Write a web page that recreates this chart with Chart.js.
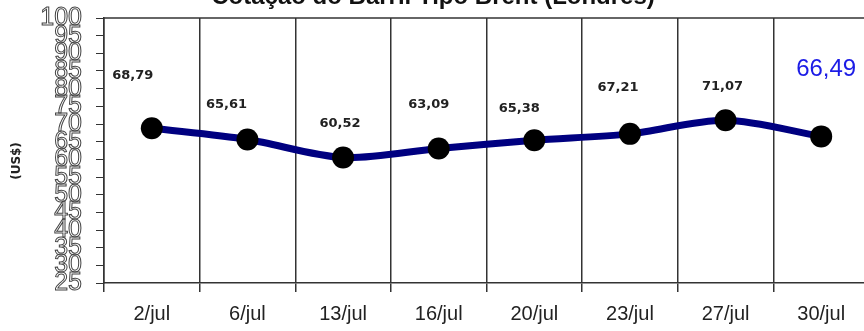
<!DOCTYPE html>
<html>
<head>
<meta charset="utf-8">
<script src="https://cdn.jsdelivr.net/npm/chart.js@4/dist/chart.umd.min.js"></script>
<style>
  html, body { margin: 0; padding: 0; background: #fff; overflow: hidden; }
  #wrap { width: 880px; height: 331px; position: relative; }
</style>
</head>
<body>
<div id="wrap"><canvas id="brent"></canvas></div>
<script>
/* ---------- data ---------- */
const categories = ["2/jul", "6/jul", "13/jul", "16/jul", "20/jul", "23/jul", "27/jul", "30/jul"];
const prices = [68.79, 65.61, 60.52, 63.09, 65.38, 67.21, 71.07, 66.49];
const yMin = 25;
const yMax = 100;
const yStep = 5;

const chartTitle = "Cotação do Barril Tipo Brent (Londres)";
const yTitle = "(US$)";

/* ---------- label placement (pixels, relative to each point) ---------- */
const labelOffsets = [
    [-19, -53], [-21, -35], [-3, -34], [-10, -44],
    [-15, -32], [-12, -46], [-3, -34], [5, -67]
];

const decorPlugin = {
    id: "decorPlugin",
    afterDatasetsDraw(chart) {
        const { ctx, chartArea } = chart;
        ctx.save();

        // top border of plot
        ctx.strokeStyle = "#333";
        ctx.lineWidth = 1.5;
        ctx.beginPath();
        ctx.moveTo(chartArea.left, chartArea.top);
        ctx.lineTo(chartArea.right, chartArea.top);
        ctx.stroke();

        // value labels
        const meta = chart.getDatasetMeta(0);
        ctx.textAlign = "center";
        ctx.textBaseline = "middle";
        meta.data.forEach((pt, i) => {
            const txt = prices[i].toFixed(2).replace(".", ",");
            const [dx, dy] = labelOffsets[i];
            if (i === prices.length - 1) {
                ctx.font = "24px 'Liberation Sans', Arial, sans-serif";
                ctx.fillStyle = "#1c1ce6";
            } else {
                ctx.font = "bold 13px 'DejaVu Sans', Verdana, sans-serif";
                ctx.fillStyle = "#222";
            }
            ctx.fillText(txt, pt.x + dx, pt.y + dy);
        });

        // title (clipped at the top like the original)
        ctx.font = "bold 24px 'Liberation Sans', Arial, sans-serif";
        ctx.fillStyle = "#111";
        ctx.textBaseline = "alphabetic";
        ctx.fillText(chartTitle, 433, 4);

        // y axis title
        ctx.translate(17, 161);
        ctx.rotate(-Math.PI / 2);
        ctx.font = "bold 12px 'DejaVu Sans', Verdana, sans-serif";
        ctx.fillStyle = "#222";
        ctx.textBaseline = "middle";
        ctx.fillText(yTitle, 0, 0);

        ctx.restore();
    }
};

new Chart(document.getElementById("brent"), {
    type: "line",
    data: {
        labels: categories,
        datasets: [{
            data: prices,
            borderColor: "#000080",
            borderWidth: 7,
            tension: 0.3,
            pointRadius: 11,
            pointBackgroundColor: "#000",
            pointBorderColor: "#000",
            pointBorderWidth: 0
        }]
    },
    options: {
        responsive: true,
        maintainAspectRatio: false,
        animation: false,
        layout: { padding: { top: 18, right: 10, left: 0, bottom: 0 } },
        plugins: {
            legend: { display: false },
            tooltip: { enabled: false }
        },
        scales: {
            x: {
                offset: true,
                grid: { offset: true, color: "#333", lineWidth: 1.5, tickLength: 9, drawOnChartArea: true },
                border: { color: "#333", width: 1.5 },
                ticks: {
                    color: "#222",
                    padding: 10,
                    font: { family: "'Liberation Sans', Arial, sans-serif", size: 20 }
                },
                afterFit(scale) { scale.height = 48; }
            },
            y: {
                min: yMin,
                max: yMax,
                grid: { drawOnChartArea: false, color: "#333", tickLength: 8 },
                border: { color: "#333", width: 1.5 },
                ticks: {
                    stepSize: yStep,
                    autoSkip: false,
                    color: "rgba(0,0,0,0)",
                    textStrokeColor: "#444",
                    textStrokeWidth: 1,
                    padding: 14,
                    font: { family: "'Liberation Sans', Arial, sans-serif", size: 25 }
                },
                afterFit(scale) {
                    scale.width = 104;
                    scale.paddingTop = 0;
                    scale.paddingBottom = 0;
                }
            }
        }
    },
    plugins: [decorPlugin]
});
</script>
</body>
</html>
